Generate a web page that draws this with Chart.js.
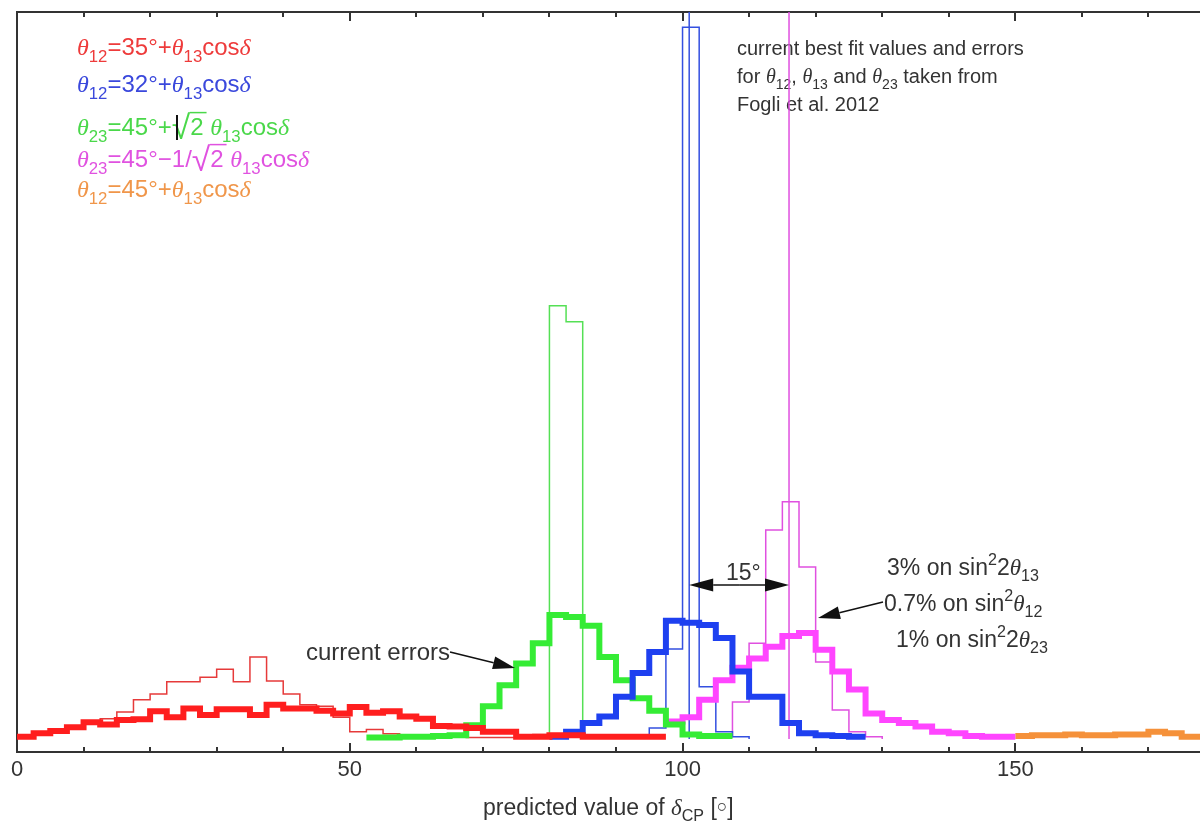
<!DOCTYPE html>
<html>
<head>
<meta charset="utf-8">
<script src="https://cdn.jsdelivr.net/npm/chart.js@4.4.0/dist/chart.umd.min.js"></script>
<style>
  html, body { margin: 0; padding: 0; background: #fff; }
</style>
</head>
<body>
<canvas id="grafico" width="1200" height="822"></canvas>
<script>
const SANS = '"Liberation Sans", Arial, sans-serif';
const SERIF = '"Liberation Serif", "DejaVu Serif", serif';

// eixos
const X_MIN = 0;
const X_MAX = 177.75;
const Y_MIN = -1.8;
const Y_MAX = 100.2;
const LARGURA_BIN = 2.5;
const rotulosX = [0, 50, 100, 150];

// theta12 = 35° + theta13 cos(delta)
const vermelhoInicio = 0;
const vermelhoAtual = [0.3, 0.8, 1.1, 1.6, 2.3, 2.0, 2.6, 2.7, 3.8, 3.0, 4.2, 3.3, 4.1, 4.1, 3.3, 4.7, 4.2, 4.2, 3.9, 3.5,
  4.4, 3.6, 3.8, 3.1, 2.8, 1.8, 1.7, 1.5, 1.0, 1.0, 0.3, 0.3, 0.5, 0.5, 0.3, 0.3, 0.3, 0.3, 0.3];
const vermelhoFuturo = [0.3, 0.6, 1.0, 1.5, 2.1, 2.8, 3.7, 5.4, 6.2, 7.9, 7.9, 8.5, 9.6, 7.9, 11.3, 8.0, 6.2, 4.7, 4.5, 3.0,
  1.0, 1.3, 0.7, 0.5, 0.4, 0.3, 0.3, 0.2, 0.2, 0.2, 0.2, 0.6, 0.3, 0.3, 0.3];

// theta12 = 32° + theta13 cos(delta)
const azulInicio = 80;
const azulAtual = [0.3, 1.0, 2.2, 3.1, 5.8, 9.1, 12.0, 16.3, 16.0, 15.7, 13.9, 9.3, 5.8, 5.8, 2.2, 0.8, 0.5, 0.4, 0.3];
const azulFuturoInicio = 92.5;
const azulFuturo = [0.3, 1.5, 12.4, 98.1, 7.2, 1.0, 0.3];
const azulCentro = 101;

// theta23 = 45° + sqrt(2) theta13 cos(delta)
const verdeInicio = 52.5;
const verdeAtual = [0.2, 0.2, 0.3, 0.3, 0.4, 0.5, 1.9, 4.5, 7.4, 10.4, 13.2, 17.1, 16.8, 15.6, 11.3, 8.1, 5.6, 3.9, 2.0,
  0.6, 0.4, 0.4];
const verdeFuturoInicio = 77.5;
const verdeFuturo = [0.3, 59.7, 57.5, 0.3];

// theta23 = 45° - 1/sqrt(2) theta13 cos(delta)
const magentaInicio = 97.5;
const magentaAtual = [2.4, 3.0, 5.4, 8.1, 9.8, 11.1, 12.7, 14.2, 14.6, 12.3, 9.3, 6.8, 3.5, 2.6, 2.2, 1.7, 1.0, 0.8,
  0.4, 0.3, 0.3];
const magentaFuturoInicio = 105;
const magentaFuturo = [0.3, 5.1, 13.2, 28.8, 32.7, 23.7, 10.6, 4.0, 1.0, 0.3];
const magentaCentro = 116;

// theta12 = 45° + theta13 cos(delta)
const laranjaInicio = 150;
const laranjaAtual = [0.4, 0.5, 0.5, 0.6, 0.5, 0.5, 0.6, 0.6, 1.0, 0.8, 0.3, 0.3];

function histograma(inicio, valores, fechado) {
  const pts = valores.map((v, i) => ({ x: inicio + i * LARGURA_BIN, y: v }));
  const fim = inicio + valores.length * LARGURA_BIN;
  pts.push({ x: fim, y: valores[valores.length - 1] });
  if (fechado) {
    pts.unshift({ x: inicio, y: 0 });
    pts.push({ x: fim, y: 0 });
  }
  return pts;
}

function serie(dados, cor, largura) {
  return {
    data: dados,
    borderColor: cor,
    borderWidth: largura,
    stepped: true,
    fill: false,
    pointRadius: 0
  };
}

function linhaVertical(x, cor) {
  return {
    data: [{ x: x, y: 0 }, { x: x, y: Y_MAX }],
    borderColor: cor,
    borderWidth: 1.5,
    fill: false,
    pointRadius: 0
  };
}

// texto com indices, expoentes e raiz
function textoRico(ctx, x, y, partes, tam, cor) {
  ctx.save();
  ctx.fillStyle = cor;
  ctx.strokeStyle = cor;
  ctx.textAlign = 'left';
  ctx.textBaseline = 'alphabetic';
  let cx = x;
  let raiz = null;
  partes.forEach(([txt, est]) => {
    let t = tam, dy = 0, fonte = SANS, estilo = '';
    if (est === 'g') { fonte = SERIF; estilo = 'italic '; }
    if (est === 'b') { t = tam * 0.7; dy = tam * 0.28; }
    if (est === 'p') { t = tam * 0.7; dy = -tam * 0.42; }
    if (est === 'r') { t = tam * 1.4; dy = tam * 0.15; }
    if (est === 'c') { t = tam * 0.75; dy = -tam * 0.12; }
    ctx.font = estilo + t + 'px ' + fonte;
    ctx.fillText(txt, cx, y + dy);
    const m = ctx.measureText(txt);
    if (est === 'r') {
      raiz = { x: cx + m.actualBoundingBoxRight - 1, y: y + dy - m.actualBoundingBoxAscent + 1 };
    }
    if (est === 'o' && raiz) {
      ctx.lineWidth = 1.5;
      ctx.beginPath();
      ctx.moveTo(raiz.x, raiz.y);
      ctx.lineTo(cx + m.width + 3, raiz.y);
      ctx.stroke();
    }
    cx += m.width;
  });
  ctx.restore();
  return cx;
}

function seta(ctx, x1, y1, x2, y2, comp, larg) {
  const ang = Math.atan2(y2 - y1, x2 - x1);
  const bx = x2 - comp * Math.cos(ang);
  const by = y2 - comp * Math.sin(ang);
  ctx.beginPath();
  ctx.moveTo(x1, y1);
  ctx.lineTo(bx, by);
  ctx.stroke();
  ctx.beginPath();
  ctx.moveTo(x2, y2);
  ctx.lineTo(bx + larg * Math.sin(ang), by - larg * Math.cos(ang));
  ctx.lineTo(bx - larg * Math.sin(ang), by + larg * Math.cos(ang));
  ctx.closePath();
  ctx.fill();
}

const anotacoes = {
  id: 'anotacoes',
  beforeDatasetsDraw(chart) {
    const ctx = chart.ctx;
    const fimFormula = [['θ', 'g'], ['13', 'b'], ['cos', 'n'], ['δ', 'g']];

    textoRico(ctx, 77, 55, [['θ', 'g'], ['12', 'b'], ['=35°+', 'n']].concat(fimFormula), 24, '#ee3b3b');
    textoRico(ctx, 77, 92, [['θ', 'g'], ['12', 'b'], ['=32°+', 'n']].concat(fimFormula), 24, '#3a48dc');
    textoRico(ctx, 77, 135, [['θ', 'g'], ['23', 'b'], ['=45°+', 'n'], ['√', 'r'], ['2', 'o'], [' ', 'n']].concat(fimFormula), 24, '#4ad84a');
    textoRico(ctx, 77, 167, [['θ', 'g'], ['23', 'b'], ['=45°−1/', 'n'], ['√', 'r'], ['2', 'o'], [' ', 'n']].concat(fimFormula), 24, '#e052e0');
    textoRico(ctx, 77, 197, [['θ', 'g'], ['12', 'b'], ['=45°+', 'n']].concat(fimFormula), 24, '#f0964a');

    // cursor que aparece na figura original
    ctx.save();
    ctx.strokeStyle = '#111';
    ctx.lineWidth = 2;
    ctx.beginPath();
    ctx.moveTo(177, 115);
    ctx.lineTo(177, 140);
    ctx.stroke();
    ctx.restore();

    const cinza = '#333';
    textoRico(ctx, 737, 55, [['current best fit values and errors', 'n']], 20, cinza);
    textoRico(ctx, 737, 83, [['for ', 'n'], ['θ', 'g'], ['12', 'b'], [', ', 'n'], ['θ', 'g'], ['13', 'b'], [' and ', 'n'],
      ['θ', 'g'], ['23', 'b'], [' taken from', 'n']], 20, cinza);
    textoRico(ctx, 737, 111, [['Fogli et al. 2012', 'n']], 20, cinza);

    textoRico(ctx, 306, 660, [['current errors', 'n']], 24, cinza);
    textoRico(ctx, 726, 580, [['15°', 'n']], 23, cinza);

    textoRico(ctx, 887, 575, [['3% on sin', 'n'], ['2', 'p'], ['2', 'n'], ['θ', 'g'], ['13', 'b']], 23, cinza);
    textoRico(ctx, 884, 611, [['0.7% on sin', 'n'], ['2', 'p'], ['θ', 'g'], ['12', 'b']], 23, cinza);
    textoRico(ctx, 896, 647, [['1% on sin', 'n'], ['2', 'p'], ['2', 'n'], ['θ', 'g'], ['23', 'b']], 23, cinza);
  },
  afterDatasetsDraw(chart) {
    const ctx = chart.ctx;
    const area = chart.chartArea;
    const xs = chart.scales.x;

    // marcas para dentro, em cima e em baixo
    ctx.save();
    ctx.strokeStyle = '#333';
    ctx.lineWidth = 2;
    xs.ticks.forEach(t => {
      const px = Math.round(xs.getPixelForValue(t.value));
      const comp = Math.abs(t.value % 50) < 1e-6 ? 9 : 5;
      ctx.beginPath();
      ctx.moveTo(px, area.bottom);
      ctx.lineTo(px, area.bottom - comp);
      ctx.moveTo(px, area.top);
      ctx.lineTo(px, area.top + comp);
      ctx.stroke();
    });

    // setas
    ctx.strokeStyle = '#111';
    ctx.fillStyle = '#111';
    ctx.lineWidth = 1.5;
    const xa = xs.getPixelForValue(azulCentro);
    const xm = xs.getPixelForValue(magentaCentro);
    const ym = 585;
    seta(ctx, (xa + xm) / 2, ym, xa, ym, 24, 6.5);
    seta(ctx, (xa + xm) / 2, ym, xm, ym, 24, 6.5);
    seta(ctx, 450, 652, 515, 668, 22, 6.5);
    seta(ctx, 883, 602, 818, 618, 22, 6.5);
    ctx.restore();
  },
  afterDraw(chart) {
    // titulo do eixo x
    textoRico(chart.ctx, 483, 815, [['predicted value of ', 'n'], ['δ', 'g'], ['CP', 'b'], [' [', 'n'], ['○', 'c'], [']', 'n']], 23, '#333');
  }
};

Chart.defaults.font.family = SANS;

new Chart(document.getElementById('grafico').getContext('2d'), {
  type: 'line',
  data: {
    datasets: [
      serie(histograma(vermelhoInicio, vermelhoAtual, false), '#ff1e1e', 6),
      serie(histograma(azulInicio, azulAtual, false), '#1e40f0', 6),
      serie(histograma(verdeInicio, verdeAtual, false), '#35ec35', 6),
      serie(histograma(magentaInicio, magentaAtual, false), '#ff45ff', 6),
      serie(histograma(laranjaInicio, laranjaAtual, false), '#f5913a', 6),
      serie(histograma(vermelhoInicio, vermelhoFuturo, true), '#e63a3a', 1.5),
      serie(histograma(verdeFuturoInicio, verdeFuturo, true), '#55e055', 1.5),
      serie(histograma(azulFuturoInicio, azulFuturo, true), '#3450e0', 1.5),
      serie(histograma(magentaFuturoInicio, magentaFuturo, true), '#e050e0', 1.5),
      linhaVertical(azulCentro, '#3450e0'),
      linhaVertical(magentaCentro, '#e050e0')
    ]
  },
  options: {
    responsive: false,
    animation: false,
    devicePixelRatio: 1,
    layout: { padding: { left: 17, right: 0, top: 0, bottom: 0 } },
    plugins: {
      legend: { display: false },
      tooltip: { enabled: false }
    },
    elements: {
      line: { tension: 0, borderJoinStyle: 'miter', borderCapStyle: 'butt' }
    },
    scales: {
      x: {
        type: 'linear',
        position: 'bottom',
        min: X_MIN,
        max: X_MAX,
        grid: { display: false, drawTicks: false },
        border: { display: true, color: '#333', width: 2 },
        ticks: {
          stepSize: 10,
          autoSkip: false,
          includeBounds: false,
          maxRotation: 0,
          padding: 5,
          color: '#333',
          font: { size: 22 },
          callback: v => (rotulosX.includes(Math.round(v)) && Math.abs(v - Math.round(v)) < 1e-6 ? String(Math.round(v)) : '')
        },
        afterFit: s => { s.height = 70; }
      },
      xTopo: {
        type: 'linear',
        axis: 'x',
        position: 'top',
        display: true,
        min: X_MIN,
        max: X_MAX,
        grid: { display: false, drawTicks: false },
        border: { display: true, color: '#333', width: 2 },
        ticks: { display: false },
        afterFit: s => { s.height = 12; }
      },
      y: {
        min: Y_MIN,
        max: Y_MAX,
        grid: { display: false, drawTicks: false },
        border: { display: true, color: '#333', width: 2 },
        ticks: { display: false },
        afterFit: s => { s.width = 0; }
      }
    }
  },
  plugins: [anotacoes]
});
</script>
</body>
</html>
